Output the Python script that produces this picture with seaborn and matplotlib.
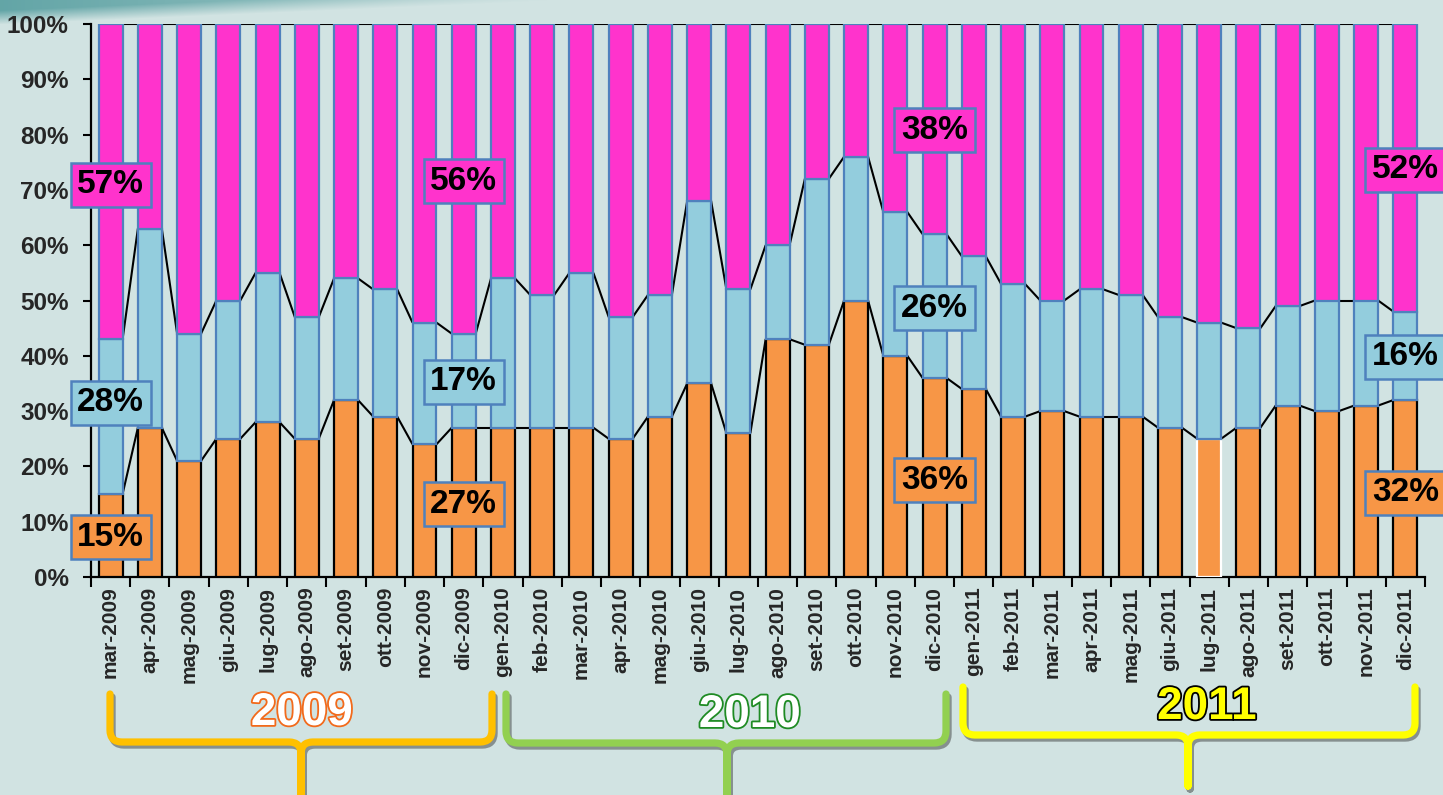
import numpy as np
import pandas as pd
import matplotlib
matplotlib.use("Agg")
import matplotlib.pyplot as plt
import matplotlib.patheffects as pe
from matplotlib.path import Path
from matplotlib.patches import PathPatch
import seaborn as sns

# ---- data -----------------------------------------------------------------
months = [
    "mar-2009", "apr-2009", "mag-2009", "giu-2009", "lug-2009", "ago-2009",
    "set-2009", "ott-2009", "nov-2009", "dic-2009",
    "gen-2010", "feb-2010", "mar-2010", "apr-2010", "mag-2010", "giu-2010",
    "lug-2010", "ago-2010", "set-2010", "ott-2010", "nov-2010", "dic-2010",
    "gen-2011", "feb-2011", "mar-2011", "apr-2011", "mag-2011", "giu-2011",
    "lug-2011", "ago-2011", "set-2011", "ott-2011", "nov-2011", "dic-2011",
]
seg_bottom = [15, 27, 21, 25, 28, 25, 32, 29, 24, 27,
              27, 27, 27, 25, 29, 35, 26, 43, 42, 50, 40, 36,
              34, 29, 30, 29, 29, 27, 25, 27, 31, 30, 31, 32]
seg_middle = [28, 36, 23, 25, 27, 22, 22, 23, 22, 17,
              27, 24, 28, 22, 22, 33, 26, 17, 30, 26, 26, 26,
              24, 24, 20, 23, 22, 20, 21, 18, 18, 20, 19, 16]
seg_top = [57, 37, 56, 50, 45, 53, 46, 48, 54, 56,
           46, 49, 45, 53, 49, 32, 48, 40, 28, 24, 34, 38,
           42, 47, 50, 48, 49, 53, 54, 55, 51, 50, 50, 52]
years = ["2009", "2010", "2011"]
yticks = [0, 10, 20, 30, 40, 50, 60, 70, 80, 90, 100]

# bars that carry value boxes
labelled = [0, 9, 21, 33]

# ---- style ----------------------------------------------------------------
BG = "#D1E3E2"
C_BOTTOM = "#F79646"
C_MIDDLE = "#93CDDD"
C_TOP = "#FF33CC"
EDGE = "#4F81BD"
BAR_W = 0.61

sns.set_theme(style="white")
plt.rcParams["font.family"] = ["Liberation Sans", "DejaVu Sans"]

W, H = 1443, 795
fig = plt.figure(figsize=(W / 100, H / 100), dpi=100, facecolor=BG)

# background layer in pixel coordinates (y down)
bg = fig.add_axes([0, 0, 1, 1], zorder=0)
bg.axis("off")

# soft teal sweep in the upper-left corner
gx, gy = np.meshgrid(np.arange(W), np.arange(60))
edge_line = 24 * (1 - gx / 560.0)
alpha = np.clip((edge_line - gy) / 14.0, 0, 1) * np.clip(1 - gx / 560.0, 0, 1) ** 0.6
rgba = np.zeros((60, W, 4))
rgba[..., 0] = 0x4F / 255
rgba[..., 1] = 0x9A / 255
rgba[..., 2] = 0x9C / 255
rgba[..., 3] = alpha * 0.85
bg.imshow(rgba, extent=(0, W, 60, 0), aspect="auto", interpolation="bilinear")
bg.set_xlim(0, W)
bg.set_ylim(H, 0)

# ---- main chart -----------------------------------------------------------
ax = fig.add_axes([91 / W, 1 - 577 / H, (1425 - 91) / W, (577 - 24) / H], zorder=2)
ax.set_facecolor("none")

df = pd.DataFrame({
    "month": months,
    "bottom": seg_bottom,
    "middle": seg_middle,
    "top": seg_top,
})
df["lvl1"] = df["bottom"]
df["lvl2"] = df["bottom"] + df["middle"]
df["lvl3"] = df["lvl2"] + df["top"]
n = len(df)

layers = [
    ("bottom", None, C_BOTTOM, "black"),
    ("middle", "lvl1", C_MIDDLE, EDGE),
    ("top", "lvl2", C_TOP, EDGE),
]
for col, base, color, ec in layers:
    start = len(ax.patches)
    sns.barplot(data=df, x="month", y=col, color=color, saturation=1,
                width=BAR_W, errorbar=None, edgecolor=ec, linewidth=1.6,
                ax=ax, zorder=3)
    if base is not None:
        for p, b in zip(ax.patches[start:], df[base]):
            p.set_y(b)

# the jul-2011 bottom segment is outlined in white
ax.patches[months.index("lug-2011")].set_edgecolor("white")

# series lines joining the segment tops of neighbouring bars
for lvl in ["lvl1", "lvl2", "lvl3"]:
    v = df[lvl].to_numpy()
    for i in range(n - 1):
        ax.plot([i + BAR_W / 2, i + 1 - BAR_W / 2], [v[i], v[i + 1]],
                color="black", lw=1.5, zorder=2, solid_capstyle="butt")

ax.set_xlim(-0.5, n - 0.5)
ax.set_ylim(0, 100)
ax.set_yticks(yticks)
ax.set_yticklabels([f"{t}%" for t in yticks], fontsize=17.5, fontweight="bold")
ax.set_xticks(range(n))
ax.set_xticklabels(months, rotation=90, fontsize=15, fontweight="bold")
ax.set_xticks(np.arange(-0.5, n, 1), minor=True)
ax.tick_params(axis="x", which="major", length=0, pad=7)
ax.tick_params(axis="x", which="minor", length=7, width=1.5, direction="out",
               bottom=True, color="black")
ax.tick_params(axis="y", which="major", length=6, width=1.5, direction="out",
               left=True, color="black", pad=10)
ax.set_xlabel("")
ax.set_ylabel("")
for s in ["top", "right"]:
    ax.spines[s].set_visible(False)
for s in ["left", "bottom"]:
    ax.spines[s].set_color("black")
    ax.spines[s].set_linewidth(1.6)

# value boxes: (series, fill colour, vertical position per labelled bar)
box_rows = [
    (seg_top, C_TOP, [70.9, 71.6, 80.8, 73.6]),
    (seg_middle, C_MIDDLE, [31.5, 35.3, 48.6, 39.8]),
    (seg_bottom, C_BOTTOM, [7.2, 13.2, 17.5, 15.2]),
]
for values, fill, ypos in box_rows:
    for idx, yp in zip(labelled, ypos):
        ax.text(idx, yp, f"{values[idx]}%", ha="center", va="center",
                fontsize=24, fontweight="bold", color="black", zorder=6,
                bbox=dict(boxstyle="square,pad=0.2", fc=fill, ec=EDGE, lw=1.8))

# ---- year braces under the axis -------------------------------------------
def brace(x0, x1, xc, ytop, ymid, ybot, color):
    r, rt = 12, 12
    verts = [
        (x0, ytop), (x0, ymid - r), (x0, ymid), (x0 + r, ymid),
        (xc - rt, ymid), (xc, ymid), (xc, ymid + rt), (xc, ybot),
        (x1, ytop), (x1, ymid - r), (x1, ymid), (x1 - r, ymid),
        (xc + rt, ymid), (xc, ymid), (xc, ymid + rt), (xc, ybot),
    ]
    half = [Path.MOVETO, Path.LINETO, Path.CURVE3, Path.CURVE3,
            Path.LINETO, Path.CURVE3, Path.CURVE3, Path.LINETO]
    patch = PathPatch(Path(verts, half + half), fill=False, ec=color, lw=5.2,
                      capstyle="round", joinstyle="round", zorder=3,
                      path_effects=[pe.SimpleLineShadow(offset=(1.5, -2.2),
                                                        shadow_color="#6d7474",
                                                        alpha=0.75),
                                    pe.Normal()])
    bg.add_patch(patch)


brace(110, 492, 301, 694, 742, 805, "#FFC000")
brace(506, 946, 727, 694, 743, 805, "#92D050")
brace(963, 1415, 1188, 687, 735, 786, "#FFFF00")

year_styles = [
    (302, 713, "white", "#F26A1B"),
    (750, 715, "white", "#1F8B24"),
    (1207, 707, "#FFFF00", "black"),
]
for label, (xt, yt, fill, outline) in zip(years, year_styles):
    bg.text(xt, yt, label, ha="center", va="center", fontsize=33,
            fontweight="bold", color=fill, zorder=4,
            path_effects=[pe.Stroke(linewidth=2.6, foreground=outline), pe.Normal()])

fig.savefig("out.png", dpi=100, facecolor=BG)
